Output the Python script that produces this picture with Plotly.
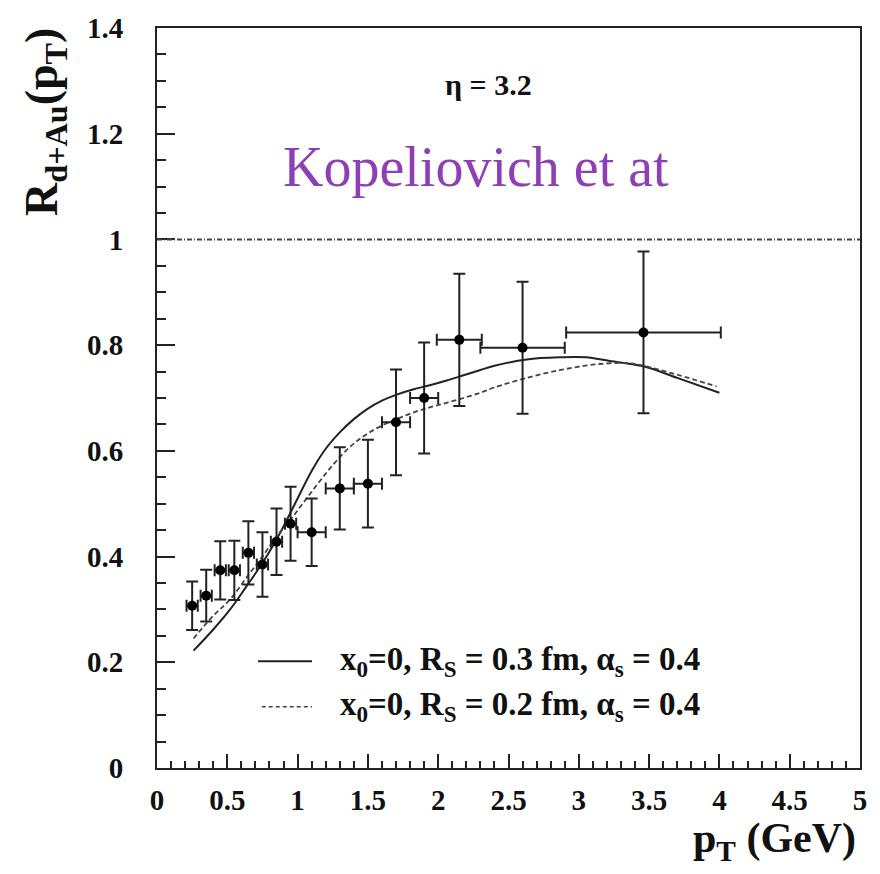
import plotly.graph_objects as go

# ---- data ----
pt = [0.25, 0.35, 0.45, 0.55, 0.65, 0.75, 0.85, 0.95, 1.1, 1.3, 1.5, 1.7, 1.9, 2.15, 2.6, 3.46]
R = [0.307, 0.326, 0.374, 0.374, 0.407, 0.385, 0.428, 0.462, 0.446, 0.529, 0.538, 0.654, 0.700, 0.810, 0.795, 0.824]
R_err = [0.046, 0.049, 0.055, 0.056, 0.06, 0.061, 0.063, 0.07, 0.064, 0.078, 0.083, 0.10, 0.105, 0.125, 0.125, 0.153]
pt_err = [0.04, 0.04, 0.04, 0.04, 0.04, 0.04, 0.04, 0.04, 0.1, 0.1, 0.1, 0.1, 0.1, 0.16, 0.3, 0.55]

sol_pt = [0.26, 0.4, 0.52, 0.64, 0.76, 0.88, 1.0, 1.1, 1.2, 1.3, 1.4, 1.5, 1.6, 1.7, 1.82, 1.94,
          2.06, 2.18, 2.3, 2.4, 2.63, 2.87, 3.05, 3.22, 3.46, 3.7, 4.0]
sol_R = [0.222, 0.262, 0.300, 0.345, 0.392, 0.447, 0.51, 0.562, 0.604, 0.635, 0.660, 0.680, 0.695,
         0.706, 0.716, 0.724, 0.733, 0.743, 0.753, 0.761, 0.773, 0.777, 0.777, 0.770, 0.760, 0.738, 0.710]

das_pt = [0.26, 0.4, 0.52, 0.65, 0.75, 0.85, 0.95, 1.05, 1.15, 1.25, 1.35, 1.45, 1.55, 1.65, 1.75,
          1.85, 1.95, 2.06, 2.18, 2.3, 2.4, 2.63, 2.87, 3.1, 3.34, 3.46, 3.7, 3.98]
das_R = [0.245, 0.288, 0.319, 0.365, 0.40, 0.438, 0.47, 0.505, 0.54, 0.573, 0.602, 0.624, 0.641,
         0.654, 0.665, 0.675, 0.683, 0.691, 0.700, 0.710, 0.720, 0.738, 0.753, 0.763, 0.766, 0.761,
         0.744, 0.722]

x_ticks = [0, 0.5, 1, 1.5, 2, 2.5, 3, 3.5, 4, 4.5, 5]
x_ticktext = ["0", "0.5", "1", "1.5", "2", "2.5", "3", "3.5", "4", "4.5", "5"]
y_ticks = [0, 0.2, 0.4, 0.6, 0.8, 1.0, 1.2, 1.4]
y_ticktext = ["0", "0.2", "0.4", "0.6", "0.8", "1", "1.2", "1.4"]

legend_labels = ["x<sub>0</sub>=0, R<sub>S</sub> = 0.3 fm, α<sub>s</sub> = 0.4",
                 "x<sub>0</sub>=0, R<sub>S</sub> = 0.2 fm, α<sub>s</sub> = 0.4"]

SERIF = "Liberation Serif"

fig = go.Figure()

fig.add_trace(go.Scatter(x=sol_pt, y=sol_R, mode="lines", line=dict(color="#222", width=2, shape="spline"),
                         showlegend=False))
fig.add_trace(go.Scatter(x=das_pt, y=das_R, mode="lines",
                         line=dict(color="#444", width=1.8, dash="5px,3px", shape="spline"),
                         showlegend=False))
fig.add_trace(go.Scatter(
    x=pt, y=R, mode="markers",
    marker=dict(color="black", size=10),
    error_y=dict(type="data", array=R_err, color="#222", thickness=2, width=6),
    error_x=dict(type="data", array=pt_err, color="#222", thickness=2, width=6),
    showlegend=False))

# reference line at R = 1
fig.add_shape(type="line", xref="paper", x0=0, x1=1, yref="y", y0=1, y1=1,
              line=dict(color="#444", width=2, dash="5px,2px,1px,2px"))

# legend samples
fig.add_shape(type="line", xref="paper", yref="paper", x0=0.1437, x1=0.2205, y0=0.1444, y1=0.1444,
              line=dict(color="#222", width=2))
fig.add_shape(type="line", xref="paper", yref="paper", x0=0.149, x1=0.2205, y0=0.0829, y1=0.0829,
              line=dict(color="#444", width=1.5, dash="4px,3px"))
for lab, yy in zip(legend_labels, [0.1444, 0.0829]):
    fig.add_annotation(text=lab, xref="paper", yref="paper", x=0.2575, y=yy, xanchor="left",
                       yanchor="middle", showarrow=False,
                       font=dict(family=SERIF, size=33, color="#111", weight="bold"))

fig.add_annotation(text="η = 3.2", xref="paper", yref="paper", x=(488 - 157) / 703, y=(768 - 77) / 748,
                   xanchor="center", yanchor="middle", showarrow=False,
                   font=dict(family=SERIF, size=30, color="#111", weight="bold"))
fig.add_annotation(text="Kopeliovich et at", xref="paper", yref="paper", x=(476 - 157) / 703,
                   y=(768 - 160) / 748, xanchor="center", yanchor="middle", showarrow=False,
                   font=dict(family=SERIF, size=56, color="#8e3fb6"))

fig.add_annotation(text="R<sub>d+Au</sub>(p<sub>T</sub>)", xref="paper", yref="paper",
                   x=(45 - 157) / 703, y=(768 - 115) / 748, xanchor="center", yanchor="middle",
                   textangle=-90, showarrow=False,
                   font=dict(family=SERIF, size=46, color="#111", weight="bold"))
fig.add_annotation(text="p<sub>T</sub> (GeV)", xref="paper", yref="paper",
                   x=(858 - 157) / 703, y=(768 - 842) / 748, xanchor="right", yanchor="middle",
                   showarrow=False,
                   font=dict(family=SERIF, size=42, color="#111", weight="bold"))

axis_common = dict(showline=True, linecolor="#222", linewidth=2, mirror=True, showgrid=False,
                   zeroline=False, ticks="inside", tickcolor="#222", tickwidth=1.5,
                   tickfont=dict(family=SERIF, size=29, color="#111", weight="bold"))

fig.update_xaxes(range=[0, 5], tickvals=x_ticks, ticktext=x_ticktext, ticklen=14,
                 minor=dict(ticks="inside", dtick=0.1, ticklen=7, tickcolor="#222", tickwidth=1.5),
                 ticklabelstandoff=5, **axis_common)
fig.update_yaxes(range=[0, 1.4], tickvals=y_ticks, ticktext=y_ticktext, ticklen=18,
                 minor=dict(ticks="inside", dtick=0.05, ticklen=9, tickcolor="#222", tickwidth=1.5),
                 ticklabelstandoff=26, **axis_common)

fig.update_layout(width=880, height=874, margin=dict(l=157, r=20, t=20, b=106),
                  paper_bgcolor="white", plot_bgcolor="white")

fig.write_html("out.html", config={"displayModeBar": False},
               post_script="document.body.style.margin='0';document.body.style.overflow='hidden';")
